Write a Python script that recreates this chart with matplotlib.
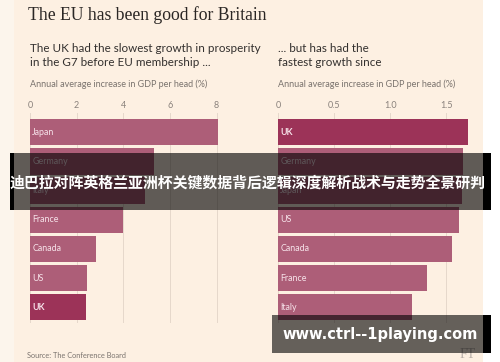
import numpy as np
import matplotlib
matplotlib.use('Agg')
import matplotlib.pyplot as plt
from matplotlib.patches import Rectangle

# --- data ---
before_countries = ['Japan', 'Germany', 'Italy', 'France', 'Canada', 'US', 'UK']
before_growth = [8.07, 5.32, 4.94, 4.0, 2.82, 2.46, 2.40]
before_ticks = [0, 2, 4, 6, 8]
before_ticklabels = ['0', '2', '4', '6', '8']

since_countries = ['UK', 'Germany', 'Japan', 'US', 'Canada', 'France', 'Italy']
since_growth = [1.69, 1.65, 1.64, 1.61, 1.55, 1.33, 1.19]
since_ticks = [0, 0.5, 1.0, 1.5]
since_ticklabels = ['0', '0.5', '1.0', '1.5']

title = 'The EU has been good for Britain'
sub_left = 'The UK had the slowest growth in prosperity\nin the G7 before EU membership ...'
sub_right = '... but has had the\nfastest growth since'
unit_label = 'Annual average increase in GDP per head (%)'
source = 'Source: The Conference Board'
banner = '迪巴拉对阵英格兰亚洲杯关键数据背后逻辑深度解析战术与走势全景研判'
watermark = 'www.ctrl--1playing.com'

W, H = 500, 362
cream = '#fdf0e2'
bar_c = '#ad5e78'
uk_c = '#9c3358'
grid_c = '#e6d8cb'
text_c = '#33302e'
grey_c = '#7a736e'

fig = plt.figure(figsize=(W/100, H/100), dpi=100)
fig.patch.set_facecolor('white')

# background in pixel coords
bg = fig.add_axes([0, 0, 1, 1], zorder=-5)
bg.set_xlim(0, W); bg.set_ylim(H, 0); bg.axis('off')
bg.add_patch(Rectangle((0, 0), 14, H, color='#fcf5ec', lw=0))
bg.add_patch(Rectangle((14, 0), 469, H, color=cream, lw=0))


def px(x, y):
    return x / W, 1 - y / H


def bar_panel(rect, countries, vals, ticks, ticklabels, xmax):
    ax = fig.add_axes(rect)
    ax.set_facecolor('none')
    ypos = np.arange(len(countries))
    cols = [uk_c if c == 'UK' else bar_c for c in countries]
    ax.barh(ypos, vals, height=0.9, color=cols, zorder=2)
    for y, c in zip(ypos, countries):
        ax.text(xmax * 0.012, y, c, va='center', ha='left', fontsize=6.4,
                color='#f7e3ea', family='Lato',
                fontweight='bold' if c == 'UK' else 'normal', zorder=3)
    ax.set_xlim(0, xmax)
    ax.set_ylim(len(countries) - 0.46, -0.66)
    ax.set_xticks(ticks)
    ax.set_xticklabels(ticklabels)
    ax.xaxis.tick_top()
    ax.tick_params(axis='x', length=0, pad=2, labelsize=6.5, labelcolor='#8a827c')
    ax.set_yticks([])
    for t in ax.get_xticklabels():
        t.set_family('Lato')
    for s in ax.spines.values():
        s.set_visible(False)
    ax.grid(axis='x', color=grid_c, lw=0.7, zorder=0)
    return ax


ax1 = bar_panel([30/W, 39/H, 196/W, 210/H], before_countries, before_growth,
                before_ticks, before_ticklabels, 8.4)
ax2 = bar_panel([278/W, 39/H, 193/W, 210/H], since_countries, since_growth,
                since_ticks, since_ticklabels, 1.72)

# texts
fig.text(*px(28, 20), title, fontsize=12.7, family='Liberation Serif',
         color='#2a2624', va='baseline')
fig.text(*px(30, 66), sub_left, fontsize=8.4, family='Lato', color=text_c,
         va='baseline', linespacing=1.3)
fig.text(*px(278, 66), sub_right, fontsize=8.4, family='Lato', color=text_c,
         va='baseline', linespacing=1.3)
fig.text(*px(30, 87), unit_label, fontsize=6.5, family='Lato', color=grey_c,
         va='baseline')
fig.text(*px(278, 87), unit_label, fontsize=6.5, family='Lato', color=grey_c,
         va='baseline')
fig.text(*px(27, 358), source, fontsize=5.3, family='Lato', color=grey_c,
         va='baseline')
fig.text(*px(476, 358), 'FT', fontsize=10, family='Liberation Serif',
         color='#b8afa8', ha='right', va='baseline')

# overlays (banner + watermark) in pixel coords
ov = fig.add_axes([0, 0, 1, 1], zorder=10)
ov.set_xlim(0, W); ov.set_ylim(H, 0); ov.axis('off')
ov.patch.set_alpha(0)
ov.add_patch(Rectangle((14, 153), 469, 57, color='black', alpha=0.62, lw=0))
ov.add_patch(Rectangle((10, 153), 4, 57, color='black', lw=0))
ov.add_patch(Rectangle((483, 153), 8, 57, color='black', lw=0))
ov.text(10, 183, banner, fontsize=10.75, family=['Noto Sans CJK SC', 'DejaVu Sans'],
        fontweight='bold', color='white', va='center', ha='left')
ov.add_patch(Rectangle((272, 315), 211, 38, color='black', alpha=0.6, lw=0))
ov.add_patch(Rectangle((483, 315), 8, 38, color='black', lw=0))
ov.text(380, 334, watermark, fontsize=10.5, family='DejaVu Sans',
        fontweight='bold', color='white', va='center', ha='center')

fig.savefig('out.png', dpi=100)
